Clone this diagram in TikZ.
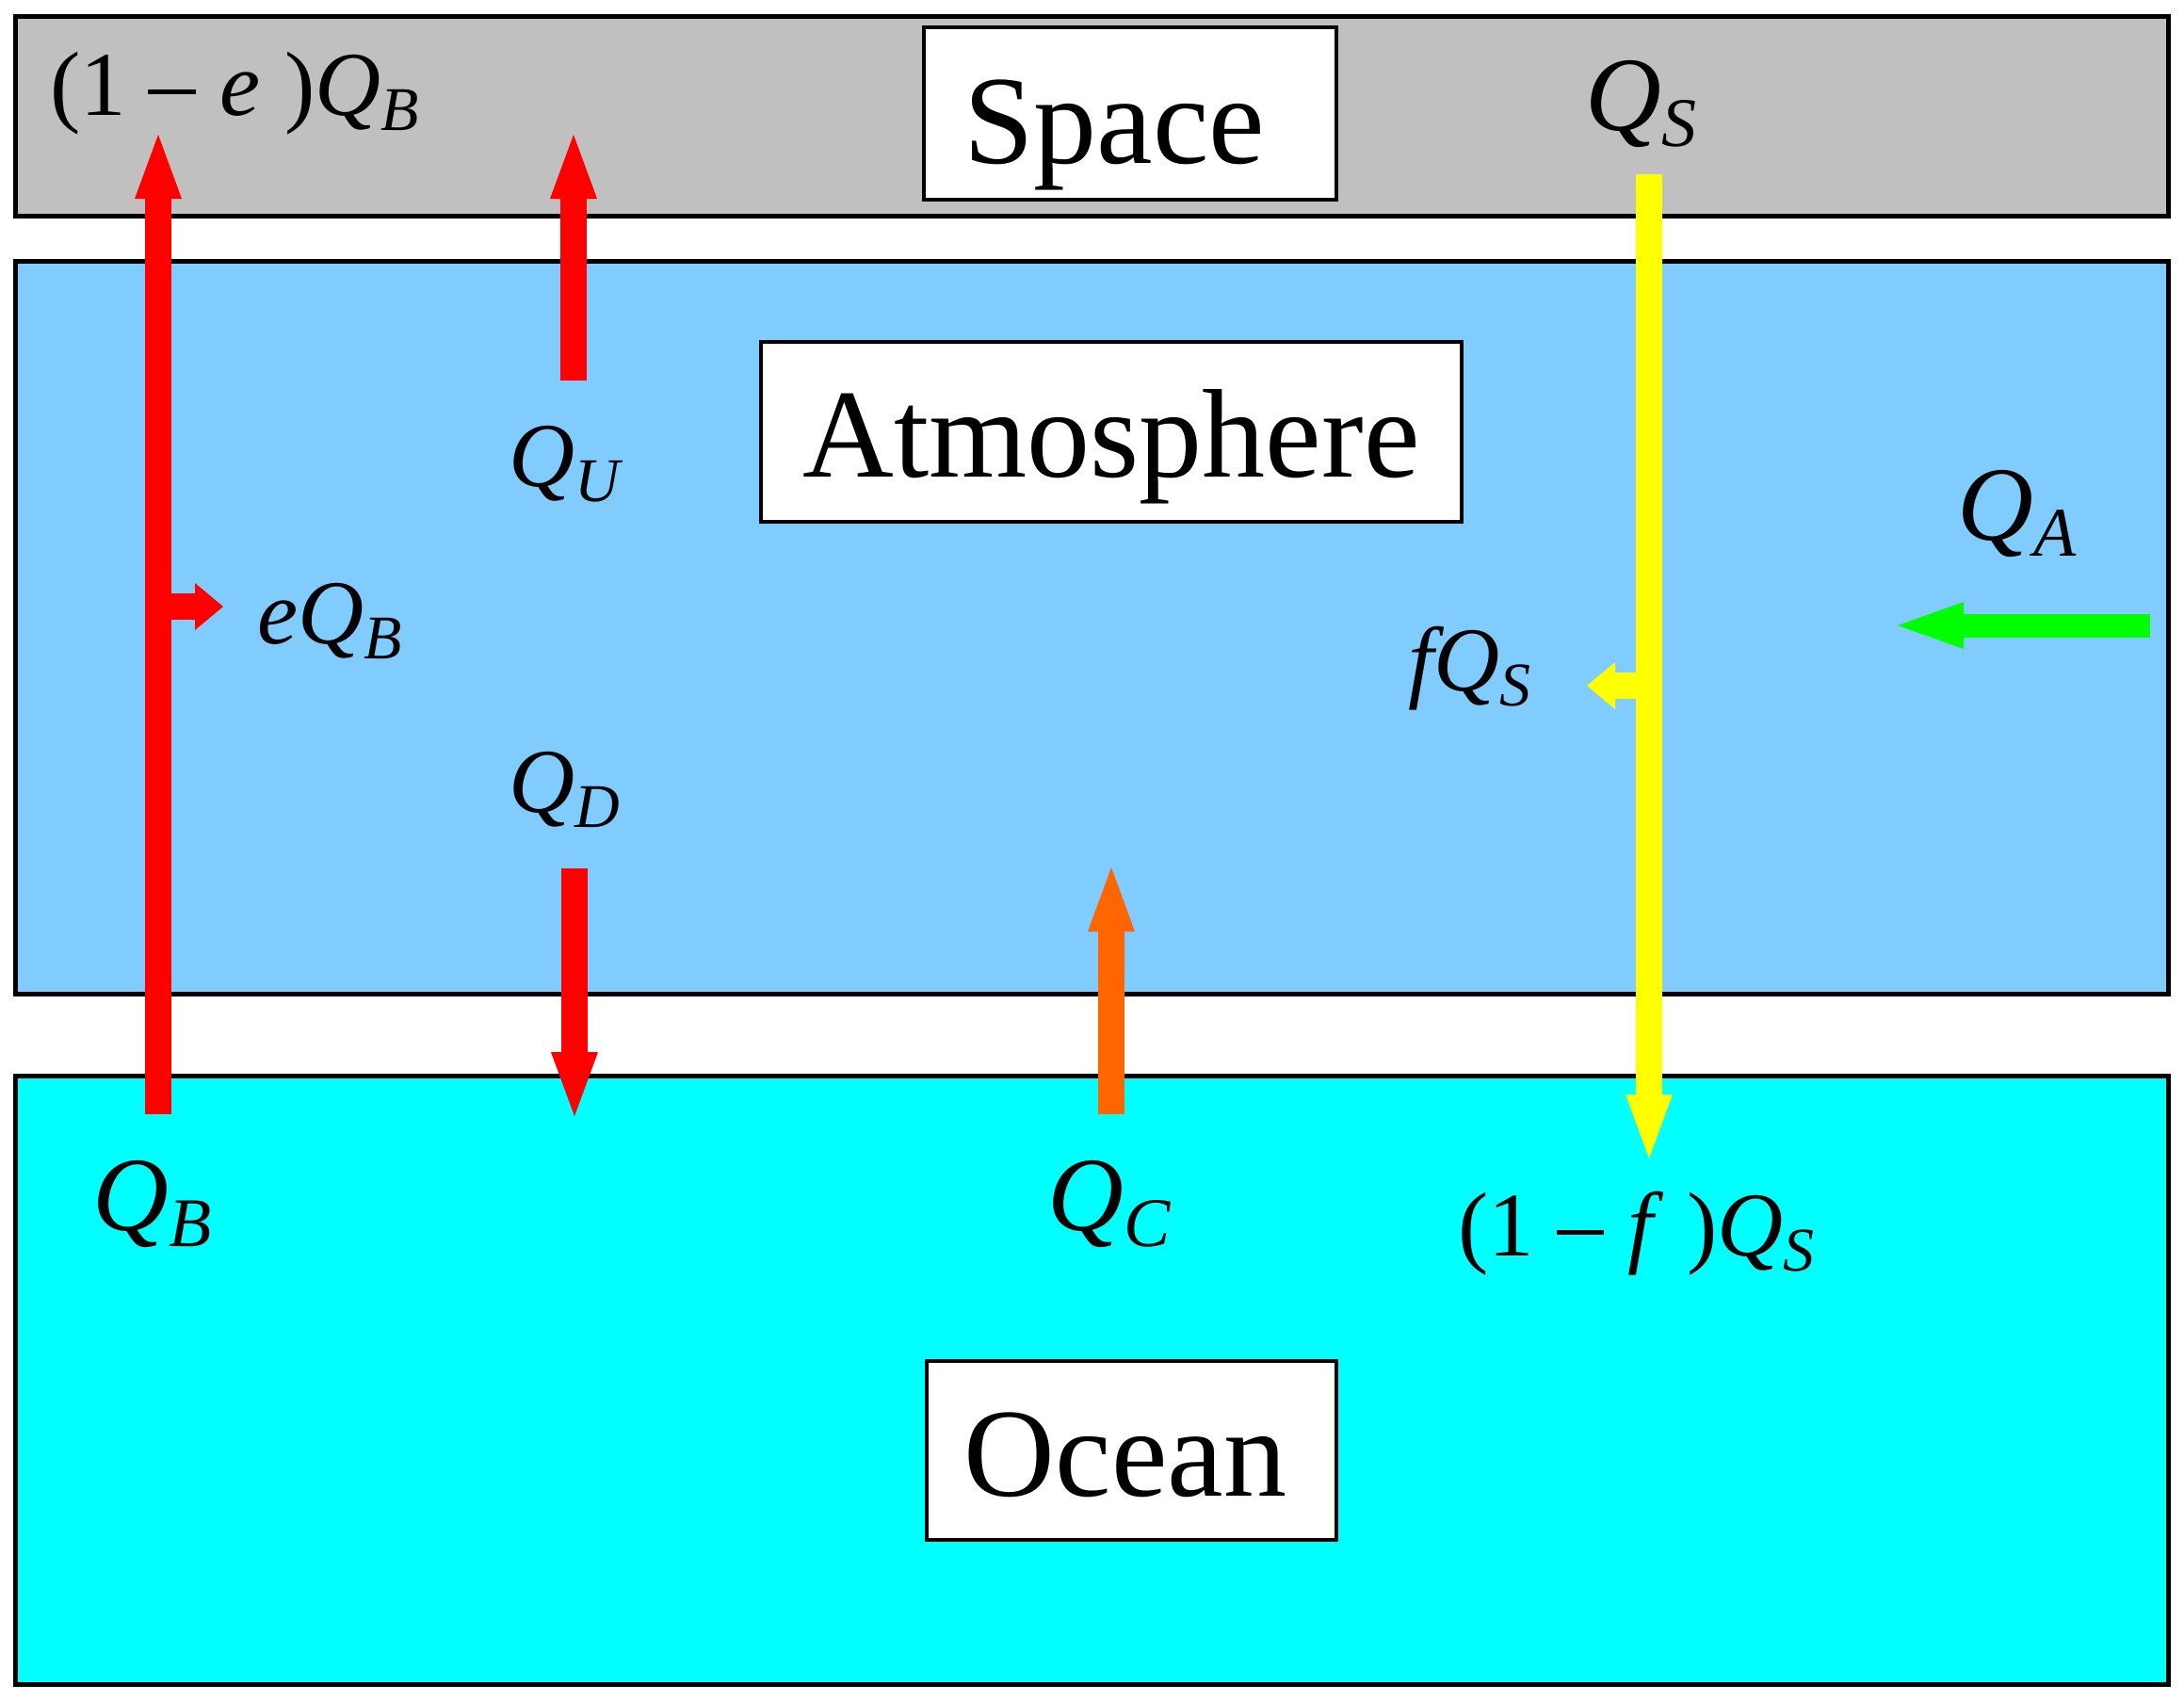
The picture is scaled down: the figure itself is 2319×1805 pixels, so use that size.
\documentclass[tikz,border=0pt]{standalone}
\usepackage{fontspec}
\setmainfont{Liberation Serif}
\usetikzlibrary{arrows.meta}
\definecolor{spacegray}{RGB}{192,192,192}
\definecolor{atmblue}{RGB}{128,204,255}
\definecolor{oceancyan}{RGB}{0,255,255}
\definecolor{arrred}{RGB}{255,0,0}
\definecolor{arrorange}{RGB}{255,102,0}
\definecolor{arryellow}{RGB}{255,255,0}
\definecolor{arrgreen}{RGB}{0,255,0}
\newcommand\medfont{\fontsize{48.5}{50}\selectfont}
\newcommand\bigfont{\fontsize{56}{60}\selectfont}
\newcommand\msub[1]{\raisebox{-8pt}{\fontsize{33}{33}\selectfont\itshape #1}}
\newcommand\bsub[1]{\raisebox{-8.5pt}{\fontsize{37}{37}\selectfont\itshape #1}}
\newcommand\mns{\hspace{0.24em}\rule[0.23em]{0.52em}{0.045em}\hspace{0.26em}}
\begin{document}
\begin{tikzpicture}[x=0.5pt,y=-0.5pt,
  layer/.style={draw=black,line width=2.5pt},
  titlebox/.style={draw=black,fill=white,line width=2pt,inner sep=0pt},
  titletext/.style={inner sep=0pt,anchor=base,font=\fontsize{67}{70}\selectfont},
  lbl/.style={inner sep=0pt,anchor=base west,font=\medfont},
  blbl/.style={inner sep=0pt,anchor=base west,font=\bigfont},
  flow/.style={line width=14pt},
  bigtip/.style={-{Triangle[width=25pt,length=34pt,line width=0pt]}},
  smalltip/.style={-{Triangle[width=25pt,length=15pt,line width=0pt]}}]
\useasboundingbox[fill=white] (0,0) rectangle (2319,1805);
% layers
\draw[layer,fill=spacegray] (16,17) rectangle (2302,229);
\draw[layer,fill=atmblue] (16,277) rectangle (2302,1055);
\draw[layer,fill=oceancyan] (16,1142) rectangle (2302,1788);
% title boxes
\node[titlebox,minimum width=219pt,minimum height=91.5pt] (spacebox) at (1200,120.5) {};
\node[titlebox,minimum width=372pt,minimum height=95.5pt] (atmbox) at (1180,458.5) {};
\node[titlebox,minimum width=217.5pt,minimum height=95pt] (oceanbox) at (1201.5,1540) {};
\node[titletext] (spacetxt) at (1183,173) {Space};
\node[titletext] (atmtxt) at (1180,506) {Atmosphere};
\node[titletext] (oceantxt) at (1195,1588) {Ocean};
% arrow end points
\coordinate (qbstart) at (168,1183);
\coordinate (qbend) at (168,143);
\coordinate (ebstart) at (168,644);
\coordinate (ebend) at (237,644);
\coordinate (qustart) at (609,404);
\coordinate (quend) at (609,143);
\coordinate (qdstart) at (610,922);
\coordinate (qdend) at (610,1185);
\coordinate (qcstart) at (1180,1183);
\coordinate (qcend) at (1180,921);
\coordinate (qsstart) at (1751,185);
\coordinate (qsend) at (1751,1230);
\coordinate (fsstart) at (1751,728);
\coordinate (fsend) at (1685,728);
\coordinate (qastart) at (2283,664);
\coordinate (qaend) at (2015,664);
% arrows
\draw[flow,arrred,smalltip] (ebstart) -- (ebend);
\draw[flow,arrred,bigtip] (qbstart) -- (qbend);
\draw[flow,arrred,bigtip] (qustart) -- (quend);
\draw[flow,arrred,bigtip] (qdstart) -- (qdend);
\draw[flow,arrorange,bigtip] (qcstart) -- (qcend);
\draw[flow,arryellow,smalltip] (fsstart) -- (fsend);
\draw[flow,arryellow,bigtip] (qsstart) -- (qsend);
\draw[line width=12.5pt,arrgreen,-{Triangle[width=25pt,length=35pt,line width=0pt]}] (qastart) -- (qaend);
% labels
\node[lbl] (l1eqb) at (53,122) {(1\mns\textit{e}\hspace{0.27em})\textit{Q}\msub{B}};
\node[lbl] (lqu) at (540,516) {\textit{Q}\msub{U}};
\node[lbl] (leqb) at (273,683) {\textit{eQ}\msub{B}};
\node[lbl] (lqd) at (540,862) {\textit{Q}\msub{D}};
\node[lbl] (lfqs) at (1495,733) {\textit{fQ}\msub{S}};
\node[lbl] (l1fqs) at (1548,1333) {(1\mns\textit{f}\hspace{0.26em})\textit{Q}\msub{S}};
\node[blbl] (lqs) at (1683,138) {\textit{Q}\bsub{S}};
\node[blbl] (lqb) at (98,1306) {\textit{Q}\bsub{B}};
\node[blbl] (lqc) at (1112,1306) {\textit{Q}\bsub{C}};
\node[blbl] (lqa) at (2078,573) {\textit{Q}\bsub{A}};
\end{tikzpicture}
\end{document}
